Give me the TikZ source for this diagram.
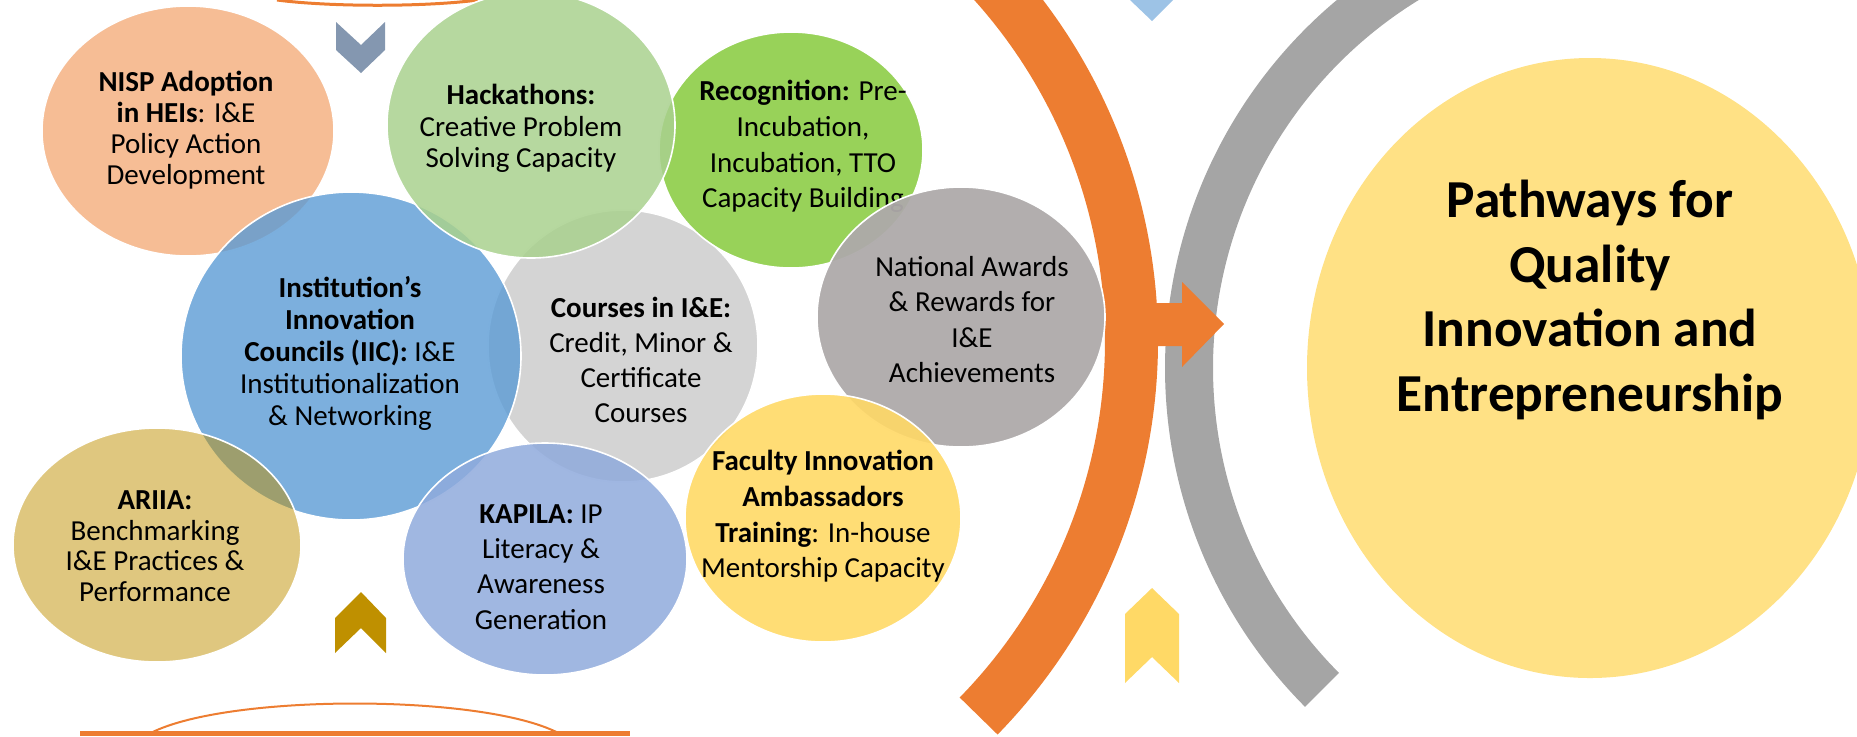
\documentclass[tikz,border=0pt]{standalone}
\usepackage{fontspec}
\setmainfont{Carlito}
\usepackage{xcolor}
\definecolor{nisp-salmon}{RGB}{244,177,131}
\definecolor{hack-green}{RGB}{169,209,142}
\definecolor{recog-green}{RGB}{146,208,80}
\definecolor{iic-blue}{RGB}{91,155,213}
\definecolor{course-grey}{RGB}{212,212,212}
\definecolor{award-grey}{RGB}{174,170,170}
\definecolor{faculty-yellow}{RGB}{255,217,102}
\definecolor{kapila-blue}{RGB}{143,170,220}
\definecolor{ariia-gold}{RGB}{191,144,0}
\definecolor{path-orange}{RGB}{237,125,49}
\definecolor{path-grey}{RGB}{165,165,165}
\definecolor{chev-slate}{RGB}{132,151,176}
\definecolor{chev-sky}{RGB}{157,195,230}
\usepackage{tikz}
\usetikzlibrary{shapes.geometric}

\begin{document}
\begin{tikzpicture}[x=0.5pt,y=-0.5pt,
	blob/.style={ellipse,draw=white,line width=0.8pt,inner sep=0pt,fill opacity=0.85},
	txt/.style={align=center,inner sep=0pt,font=\fontsize{14.5}{#1}\selectfont},
	txt/.default=17]
	\useasboundingbox (0,0) rectangle (1857,736);
	\clip (0,0) rectangle (1857,736);

	% the two arcs and the arrow between them
	\fill[path-orange] (595,341) ++(-50:563) arc[start angle=-50,end angle=44.35,radius=563]
		-- ++(224.35:53) arc[start angle=44.35,end angle=-50,radius=510] -- cycle;
	\fill[path-grey] (1645,368) ++(135.1:480) arc[start angle=135.1,end angle=245,radius=480]
		-- ++(65:48) arc[start angle=245,end angle=135.1,radius=432] -- cycle;
	\fill[path-orange] (1140,303)--(1182,303)--(1182,282)--(1224,324)--(1182,367)--(1182,346)--(1140,346)--cycle;

	% chevrons
	\fill[chev-slate] (336,22)--(361,45)--(385,22)--(385,50)--(361,73)--(336,50)--cycle;
	\fill[ariia-gold] (335,618)--(361,592)--(386,618)--(386,653)--(361,628)--(335,653)--cycle;
	\fill[faculty-yellow] (1125,614)--(1152,588)--(1179,614)--(1179,683)--(1152,657)--(1125,683)--cycle;
	\fill[chev-sky] (1130,-30)--(1152,-8)--(1173,-30)--(1173,0)--(1152,21)--(1130,0)--cycle;

	% orange rims top and bottom
	\draw[path-orange,line width=1.5pt] (277,0) .. controls (330,7) and (425,7) .. (478,0);
	\draw[path-orange,line width=1pt] (147,735) .. controls (220,693) and (490,693) .. (562,735);
	\fill[path-orange] (80,731) rectangle (630,736);

	% circles
	\node[blob,fill=course-grey,fill opacity=1,minimum width=135pt,minimum height=136pt] (courses) at (623,346) {};
	\node[txt=17.6] (courses-t) at (641,360) {\textbf{Courses in I\&E:}\\Credit, Minor \&\\Certificate\\Courses};

	\node[blob,fill=nisp-salmon,minimum width=146pt,minimum height=125pt] (nisp) at (188,131) {};
	\node[txt=15.6] (nisp-t) at (186,130) {\textbf{NISP Adoption}\\\textbf{in HEIs}: I\&E\\Policy Action\\Development};

	\node[blob,fill=iic-blue,fill opacity=0.8,minimum width=170pt,minimum height=164pt] (iic) at (351,356) {};
	\node[txt=15.9] (iic-t) at (350,353.5) {\textbf{Institution’s}\\\textbf{Innovation}\\\textbf{Councils (IIC):} I\&E\\Institutionalization\\\& Networking};

	\node[blob,fill=recog-green,fill opacity=0.95,minimum width=132pt,minimum height=118pt] (recog) at (791,150) {};
	\node[txt=17.8] (recog-t) at (803,146.5) {\textbf{Recognition:} Pre-\\Incubation,\\Incubation, TTO\\Capacity Building};

	\node[blob,fill=hack-green,minimum width=144pt,minimum height=133pt] (hack) at (531,125) {};
	\node[txt=15.8] (hack-t) at (521,128.5) {\textbf{Hackathons:}\\Creative Problem\\Solving Capacity};

	\node[blob,fill=award-grey,fill opacity=0.95,minimum width=144pt,minimum height=130pt] (awards) at (961,317) {};
	\node[txt=17.8] (awards-t) at (972,319.5) {National Awards\\\& Rewards for\\I\&E\\Achievements};

	\node[blob,fill=faculty-yellow,fill opacity=0.9,minimum width=138pt,minimum height=124pt] (faculty) at (823,518) {};
	\node[txt=17.8] (faculty-t) at (823,516.5) {\textbf{Faculty Innovation}\\\textbf{Ambassadors}\\\textbf{Training}: In-house\\Mentorship Capacity};

	\node[blob,fill=kapila-blue,minimum width=142pt,minimum height=116pt] (kapila) at (545,559) {};
	\node[txt=17.6] (kapila-t) at (541,567) {\textbf{KAPILA:} IP\\Literacy \&\\Awareness\\Generation};

	\node[blob,fill=ariia-gold,fill opacity=0.5,minimum width=144pt,minimum height=117pt] (ariia) at (157,545) {};
	\node[txt=15.3] (ariia-t) at (155,546) {\textbf{ARIIA:}\\Benchmarking\\I\&E Practices \&\\Performance};

	% goal
	\node[blob,draw=none,fill=faculty-yellow,fill opacity=0.8,minimum width=283pt,minimum height=310pt] (goal) at (1590,368) {};
	\node[align=center,inner sep=0pt,font=\fontsize{26.7}{32.4}\selectfont\bfseries] (goal-t) at (1590,300)
		{Pathways for\\Quality\\Innovation and\\Entrepreneurship};
\end{tikzpicture}
\end{document}
